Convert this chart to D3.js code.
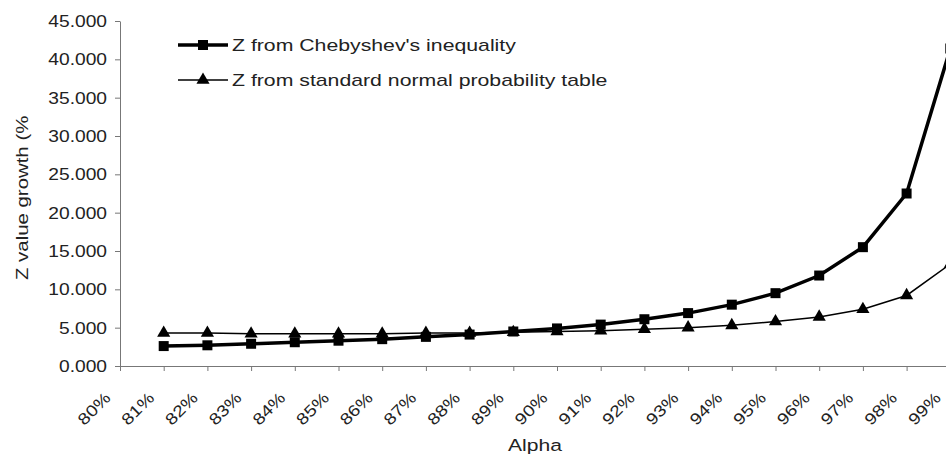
<!DOCTYPE html>
<html>
<head>
<meta charset="utf-8">
<script src="https://cdn.jsdelivr.net/npm/d3@7"></script>
<style>
  body { margin: 0; background: #fff; }
  text { font-family: Arial, "Liberation Sans", sans-serif; fill: #222; }
</style>
</head>
<body>
<svg id="chart"></svg>
<script>
// categories along the x axis (alpha levels)
const alphas = ['80%','81%','82%','83%','84%','85%','86%','87%','88%','89%',
                '90%','91%','92%','93%','94%','95%','96%','97%','98%','99%'];
// growth of Z in % (80% has no value)
const chebyshev = [null, 2.6, 2.7, 2.9, 3.1, 3.3, 3.5, 3.8, 4.1, 4.5,
                   4.9, 5.4, 6.1, 6.9, 8.0, 9.5, 11.8, 15.5, 22.5, 41.4];
const normalTable = [null, 4.3, 4.3, 4.2, 4.2, 4.2, 4.2, 4.3, 4.3, 4.4,
                     4.5, 4.6, 4.8, 5.0, 5.3, 5.8, 6.4, 7.4, 9.2, 13.3];
const yTicks = [0, 5, 10, 15, 20, 25, 30, 35, 40, 45];
const legendLabels = ['Z from Chebyshev\'s inequality', 'Z from standard normal probability table'];

const width = 946, height = 454;
const margin = {top: 21, left: 120, bottom: 88};
const step = 43.7;

const svg = d3.select('#chart')
    .attr('width', width)
    .attr('height', height);

const xScale = d3.scalePoint()
    .domain(alphas)
    .range([margin.left, margin.left + step * (alphas.length - 1)]);

const yScale = d3.scaleLinear()
    .domain([0, 45])
    .range([height - margin.bottom, margin.top]);

// y axis
const yAxisG = svg.append('g')
    .attr('transform', `translate(${margin.left},0)`)
    .call(d3.axisLeft(yScale).tickValues(yTicks).tickFormat(d3.format('.3f')).tickSize(5).tickSizeOuter(0));
yAxisG.selectAll('text')
    .attr('x', 0).attr('dy', '0.35em')
    .attr('transform', 'translate(-13,0) scale(1.2,1)')
    .style('font-size', '16px');

// x axis, labels turned 45 degrees
const xAxisG = svg.append('g')
    .attr('transform', `translate(0,${yScale(0)})`)
    .call(d3.axisBottom(xScale).tickSize(5).tickSizeOuter(0));
xAxisG.selectAll('text')
    .attr('x', 0).attr('y', 0).attr('dy', 0)
    .style('text-anchor', 'end')
    .attr('transform', 'translate(-9,33) rotate(-45) scale(1.2,1)')
    .style('font-size', '16px');

svg.selectAll('.domain, .tick line').attr('stroke', '#777');

// axis titles
svg.append('text')
    .attr('transform', `translate(535,451) scale(1.24,1)`)
    .style('text-anchor', 'middle')
    .style('font-size', '17px')
    .text('Alpha');

svg.append('text')
    .attr('transform', 'translate(28,280) rotate(-90) scale(1.2,1)')
    .style('font-size', '17px')
    .text('Z value growth (%');

// lines
const series = [
  {values: chebyshev, width: 3.5, marker: d3.symbolSquare, size: 100},
  {values: normalTable, width: 1.5, marker: d3.symbolTriangle, size: 75}
];

const line = d3.line()
    .defined(d => d.v != null)
    .x(d => xScale(d.c))
    .y(d => yScale(d.v));

series.forEach((s, i) => {
  const pts = alphas.map((c, j) => ({c: c, v: s.values[j]}));
  svg.append('path')
      .datum(pts)
      .attr('fill', 'none')
      .attr('stroke', '#000')
      .attr('stroke-width', s.width)
      .attr('d', line);
  svg.selectAll('.m' + i)
      .data(pts.filter(d => d.v != null))
    .join('path')
      .attr('class', 'm' + i)
      .attr('d', d3.symbol().type(s.marker).size(s.size))
      .attr('transform', d => `translate(${xScale(d.c)},${yScale(d.v)})`)
      .attr('fill', '#000');
});

// legend
const legend = svg.append('g');
series.forEach((s, i) => {
  const ly = 45 + i * 35;
  legend.append('line')
      .attr('x1', 178).attr('x2', 228)
      .attr('y1', ly).attr('y2', ly)
      .attr('stroke', '#000')
      .attr('stroke-width', s.width);
  legend.append('path')
      .attr('d', d3.symbol().type(s.marker).size(s.size))
      .attr('transform', `translate(203,${ly})`)
      .attr('fill', '#000');
  legend.append('text')
      .attr('transform', `translate(232,${ly + 6}) scale(1.25,1)`)
      .style('font-size', '17px')
      .text(legendLabels[i]);
});
</script>
</body>
</html>
